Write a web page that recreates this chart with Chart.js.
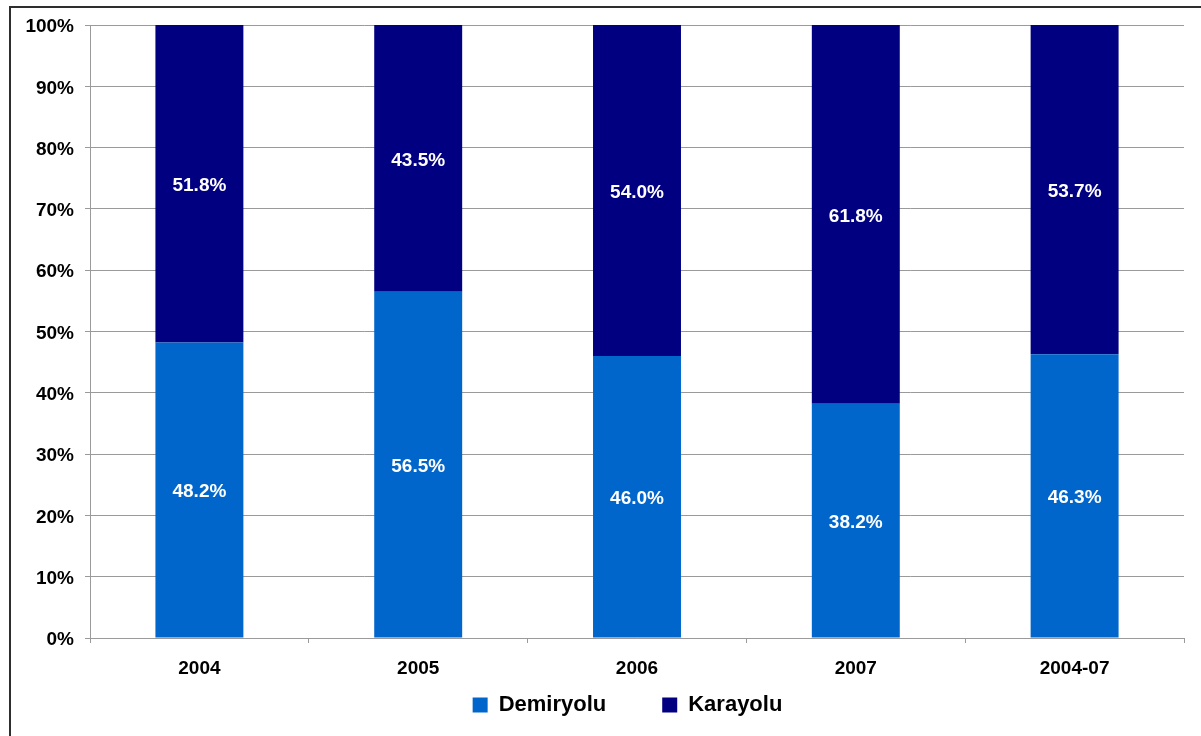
<!DOCTYPE html>
<html>
<head>
<meta charset="utf-8">
<script src="https://cdn.jsdelivr.net/npm/chart.js@4/dist/chart.umd.min.js"></script>
<style>
    html, body { margin: 0; padding: 0; background: #fff; overflow: hidden; }
    #frame {
        position: absolute; left: 9px; top: 6px; width: 1400px; height: 900px;
        border-top: 2px solid #2e2e2e; border-left: 2px solid #2e2e2e;
    }
    #wrap { position: absolute; left: 0; top: 0; width: 1255px; height: 736px; }
</style>
</head>
<body>
<div id="frame"></div>
<div id="wrap"><canvas id="share-chart"></canvas></div>
<script>
// Veriler
const years = ['2004', '2005', '2006', '2007', '2004-07'];
const demiryolu = [48.2, 56.5, 46.0, 38.2, 46.3];
const karayolu = [51.8, 43.5, 54.0, 61.8, 53.7];
const yTicks = [0, 10, 20, 30, 40, 50, 60, 70, 80, 90, 100];

const fontFamily = "'Liberation Sans', Arial, Helvetica, sans-serif";
const gridColor = '#9a9a9a';

// Çubukların ortasına yüzde etiketleri
const barLabels = {
    id: 'barLabels',
    afterDatasetsDraw(chart) {
        const ctx = chart.ctx;
        ctx.save();
        ctx.fillStyle = '#ffffff';
        ctx.font = 'bold 19px ' + fontFamily;
        ctx.textAlign = 'center';
        ctx.textBaseline = 'middle';
        chart.data.datasets.forEach((ds, i) => {
            const meta = chart.getDatasetMeta(i);
            meta.data.forEach((bar, j) => {
                const p = bar.getCenterPoint();
                ctx.fillText(ds.data[j].toFixed(1) + '%', p.x, p.y + 2);
            });
        });
        ctx.restore();
    }
};

new Chart(document.getElementById('share-chart'), {
    type: 'bar',
    data: {
        labels: years,
        datasets: [
            {label: 'Demiryolu', data: demiryolu, backgroundColor: '#0066cc'},
            {label: 'Karayolu', data: karayolu, backgroundColor: '#000080'}
        ]
    },
    options: {
        responsive: true,
        maintainAspectRatio: false,
        animation: false,
        categoryPercentage: 1,
        barPercentage: 0.402,
        layout: {padding: {top: 25, right: 0, bottom: 10, left: 0}},
        plugins: {
            tooltip: {enabled: false},
            legend: {
                position: 'bottom',
                labels: {
                    color: '#000',
                    boxWidth: 15,
                    boxHeight: 15,
                    padding: 56,
                    font: {family: fontFamily, size: 22, weight: 'bold'}
                }
            }
        },
        scales: {
            x: {
                stacked: true,
                // yükseklik sıfır: etiketler mirror ile lejant alanına çiziliyor
                afterFit(scale) { scale.height = 0; },
                grid: {display: true, drawOnChartArea: false, drawTicks: true, tickLength: 5, color: gridColor},
                border: {color: gridColor},
                ticks: {
                    color: '#000',
                    mirror: true,
                    padding: -42,
                    font: {family: fontFamily, size: 19, weight: 'bold'}
                }
            },
            y: {
                stacked: true,
                min: 0,
                max: 100,
                afterFit(scale) { scale.width = 90; },
                afterBuildTicks(scale) { scale.ticks = yTicks.map(v => ({value: v})); },
                grid: {color: gridColor, tickLength: 5},
                border: {color: gridColor},
                ticks: {
                    color: '#000',
                    padding: 11,
                    labelOffset: 2,
                    font: {family: fontFamily, size: 19, weight: 'bold'},
                    callback: v => v + '%'
                }
            },
            // boş sağ eksen, lejantı ortalamak için
            yRight: {
                position: 'right',
                afterFit(scale) { scale.width = 71; },
                grid: {display: false},
                border: {display: false},
                ticks: {display: false}
            }
        }
    },
    plugins: [barLabels]
});
</script>
</body>
</html>
